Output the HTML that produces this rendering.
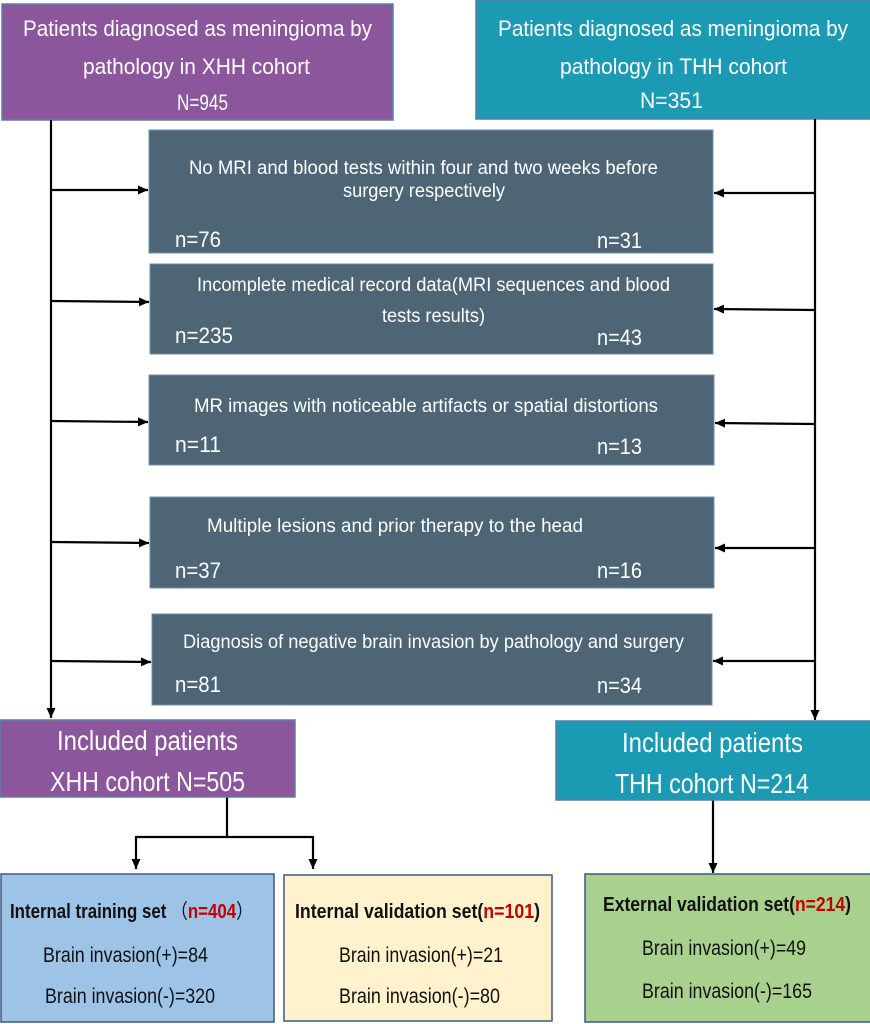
<!DOCTYPE html>
<html>
<head>
<meta charset="utf-8">
<style>
html,body{margin:0;padding:0;background:#fff;}
svg{display:block;}
text{font-family:"Liberation Sans","Noto Sans CJK SC",sans-serif;}
</style>
</head>
<body>
<svg width="870" height="1024" viewBox="0 0 870 1024" xmlns="http://www.w3.org/2000/svg">
<defs>
<marker id="ah" viewBox="0 0 10 10" refX="10" refY="5" markerWidth="10" markerHeight="10" markerUnits="userSpaceOnUse" orient="auto">
<path d="M0,0.5 L10,5 L0,9.5 z" fill="#000"/>
</marker>
</defs>

<!-- Top boxes -->
<rect x="2" y="4" width="391" height="116" fill="#8C569D" stroke="#5b7fa8" stroke-width="1.5"/>
<rect x="476" y="0" width="395" height="119" fill="#1B9AB3" stroke="#5b7fa8" stroke-width="1.5"/>
<g fill="#fff" font-size="22">
<text x="23" y="36" textLength="349" lengthAdjust="spacingAndGlyphs">Patients diagnosed as meningioma by</text>
<text x="83" y="74" textLength="227" lengthAdjust="spacingAndGlyphs">pathology in XHH cohort</text>
<text x="177" y="110" textLength="51" lengthAdjust="spacingAndGlyphs">N=945</text>
<text x="498" y="36" textLength="350" lengthAdjust="spacingAndGlyphs">Patients diagnosed as meningioma by</text>
<text x="560" y="74" textLength="227" lengthAdjust="spacingAndGlyphs">pathology in THH cohort</text>
<text x="640" y="108" textLength="63" lengthAdjust="spacingAndGlyphs">N=351</text>
</g>

<!-- Gray exclusion boxes -->
<g fill="#4E6575" stroke="#6d8fb5" stroke-width="1">
<rect x="149" y="130" width="564" height="123"/>
<rect x="150" y="264" width="563" height="90"/>
<rect x="149" y="375" width="565" height="90"/>
<rect x="150" y="497" width="564" height="91"/>
<rect x="152" y="614" width="560" height="91"/>
</g>
<g fill="#fff" font-size="19">
<text x="189" y="174" textLength="469" lengthAdjust="spacingAndGlyphs">No MRI and blood tests within four and two weeks before</text>
<text x="343" y="197" textLength="162" lengthAdjust="spacingAndGlyphs">surgery respectively</text>
<text x="197" y="291" textLength="473" lengthAdjust="spacingAndGlyphs">Incomplete medical record data(MRI sequences and blood</text>
<text x="382" y="322" textLength="103" lengthAdjust="spacingAndGlyphs">tests results)</text>
<text x="194" y="412" textLength="464" lengthAdjust="spacingAndGlyphs">MR images with noticeable artifacts or spatial distortions</text>
<text x="207" y="532" textLength="376" lengthAdjust="spacingAndGlyphs">Multiple lesions and prior therapy to the head</text>
<text x="183" y="648" textLength="501" lengthAdjust="spacingAndGlyphs">Diagnosis of negative brain invasion by pathology and surgery</text>
</g>
<g fill="#fff" font-size="22">
<text x="175" y="247" textLength="46" lengthAdjust="spacingAndGlyphs">n=76</text>
<text x="597" y="248" textLength="45" lengthAdjust="spacingAndGlyphs">n=31</text>
<text x="175" y="343" textLength="58" lengthAdjust="spacingAndGlyphs">n=235</text>
<text x="597" y="345" textLength="45" lengthAdjust="spacingAndGlyphs">n=43</text>
<text x="175" y="452" textLength="46" lengthAdjust="spacingAndGlyphs">n=11</text>
<text x="597" y="454" textLength="45" lengthAdjust="spacingAndGlyphs">n=13</text>
<text x="175" y="578" textLength="46" lengthAdjust="spacingAndGlyphs">n=37</text>
<text x="597" y="578" textLength="45" lengthAdjust="spacingAndGlyphs">n=16</text>
<text x="175" y="692" textLength="46" lengthAdjust="spacingAndGlyphs">n=81</text>
<text x="597" y="693" textLength="45" lengthAdjust="spacingAndGlyphs">n=34</text>
</g>

<!-- Connectors -->
<g stroke="#000" stroke-width="2.2" fill="none">
<line x1="51" y1="120" x2="51" y2="718" marker-end="url(#ah)"/>
<line x1="815" y1="119" x2="815" y2="720" marker-end="url(#ah)"/>
<line x1="51" y1="190" x2="148" y2="190" marker-end="url(#ah)"/>
<line x1="51" y1="301" x2="149" y2="302" marker-end="url(#ah)"/>
<line x1="51" y1="421" x2="148" y2="422" marker-end="url(#ah)"/>
<line x1="51" y1="542" x2="149" y2="543" marker-end="url(#ah)"/>
<line x1="51" y1="661" x2="151" y2="662" marker-end="url(#ah)"/>
<line x1="815" y1="193" x2="714" y2="193" marker-end="url(#ah)"/>
<line x1="815" y1="310" x2="714" y2="309" marker-end="url(#ah)"/>
<line x1="815" y1="424" x2="715" y2="423" marker-end="url(#ah)"/>
<line x1="815" y1="548" x2="715" y2="548" marker-end="url(#ah)"/>
<line x1="815" y1="661" x2="713" y2="661" marker-end="url(#ah)"/>
<line x1="227" y1="797" x2="227" y2="837"/>
<line x1="135" y1="837" x2="314" y2="837"/>
<line x1="136" y1="836" x2="136" y2="869" marker-end="url(#ah)"/>
<line x1="313" y1="836" x2="313" y2="869" marker-end="url(#ah)"/>
<line x1="713" y1="800" x2="713" y2="873" marker-end="url(#ah)"/>
</g>

<!-- Included boxes -->
<rect x="0" y="720" width="295" height="77" fill="#8C569D" stroke="#5b7fa8" stroke-width="1.5"/>
<rect x="556" y="721" width="315" height="79" fill="#1B9AB3" stroke="#5b7fa8" stroke-width="1.5"/>
<g fill="#fff" font-size="28">
<text x="57" y="750" textLength="181" lengthAdjust="spacingAndGlyphs">Included patients</text>
<text x="50" y="791" textLength="195" lengthAdjust="spacingAndGlyphs">XHH cohort N=505</text>
<text x="622" y="752" textLength="181" lengthAdjust="spacingAndGlyphs">Included patients</text>
<text x="615" y="793" textLength="194" lengthAdjust="spacingAndGlyphs">THH cohort N=214</text>
</g>

<!-- Bottom boxes -->
<rect x="1" y="874" width="273" height="148" fill="#9DC3E6" stroke="#41597a" stroke-width="1.5"/>
<rect x="284" y="875" width="268" height="146" fill="#FFF2CC" stroke="#41597a" stroke-width="1.5"/>
<rect x="585" y="874" width="286" height="148" fill="#A9D18E" stroke="#41597a" stroke-width="1.5"/>

<g fill="#111" font-size="20" font-weight="bold">
<text x="10" y="918" textLength="243" lengthAdjust="spacingAndGlyphs">Internal training set <tspan font-weight="normal">（</tspan><tspan fill="#C00000">n=404</tspan><tspan font-weight="normal">）</tspan></text>
<text x="295" y="918" textLength="245" lengthAdjust="spacingAndGlyphs">Internal validation set(<tspan fill="#C00000">n=101</tspan>)</text>
<text x="603" y="911" textLength="248" lengthAdjust="spacingAndGlyphs">External validation set(<tspan fill="#C00000">n=214</tspan>)</text>
</g>
<g fill="#111" font-size="21">
<text x="43" y="962" textLength="165" lengthAdjust="spacingAndGlyphs">Brain invasion(+)=84</text>
<text x="45" y="1003" textLength="170" lengthAdjust="spacingAndGlyphs">Brain invasion(-)=320</text>
<text x="339" y="962" textLength="164" lengthAdjust="spacingAndGlyphs">Brain invasion(+)=21</text>
<text x="339" y="1003" textLength="161" lengthAdjust="spacingAndGlyphs">Brain invasion(-)=80</text>
<text x="642" y="955" textLength="164" lengthAdjust="spacingAndGlyphs">Brain invasion(+)=49</text>
<text x="642" y="998" textLength="170" lengthAdjust="spacingAndGlyphs">Brain invasion(-)=165</text>
</g>
</svg>
</body>
</html>
